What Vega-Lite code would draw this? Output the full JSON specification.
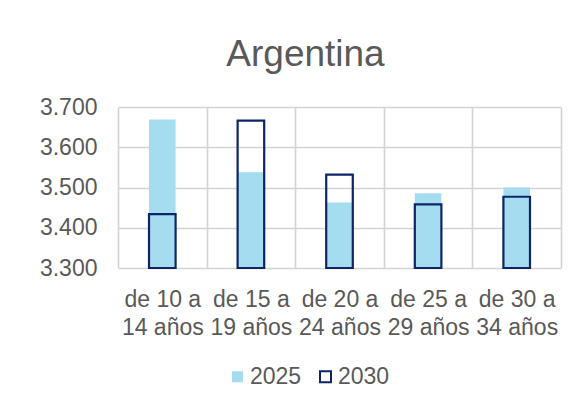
{
  "$schema": "https://vega.github.io/schema/vega-lite/v6.json",
  "width": 443,
  "height": 161,
  "autosize": {"type": "none"},
  "padding": {"left": 118, "top": 107, "right": 11, "bottom": 141},
  "background": "white",
  "title": {
    "text": "Argentina",
    "font": "Liberation Sans",
    "fontSize": 37,
    "fontWeight": "normal",
    "color": "#595959",
    "anchor": "middle",
    "frame": "group",
    "baseline": "alphabetic",
    "offset": -7,
    "dx": -34
  },
  "data": {
    "values": [
      {"grupo": "de 10 a 14 años", "anio": "2025", "valor": 3669},
      {"grupo": "de 15 a 19 años", "anio": "2025", "valor": 3538},
      {"grupo": "de 20 a 24 años", "anio": "2025", "valor": 3463},
      {"grupo": "de 25 a 29 años", "anio": "2025", "valor": 3486},
      {"grupo": "de 30 a 34 años", "anio": "2025", "valor": 3500},
      {"grupo": "de 10 a 14 años", "anio": "2030", "valor": 3434},
      {"grupo": "de 15 a 19 años", "anio": "2030", "valor": 3666},
      {"grupo": "de 20 a 24 años", "anio": "2030", "valor": 3532},
      {"grupo": "de 25 a 29 años", "anio": "2030", "valor": 3458},
      {"grupo": "de 30 a 34 años", "anio": "2030", "valor": 3477}
    ]
  },
  "mark": {"type": "bar", "width": {"band": 0.3}, "strokeWidth": 2.2},
  "encoding": {
    "x": {
      "field": "grupo",
      "type": "nominal",
      "sort": null,
      "scale": {"paddingInner": 0, "paddingOuter": 0},
      "axis": {
        "title": null,
        "ticks": false,
        "domain": false,
        "grid": true,
        "tickBand": "extent",
        "gridColor": "#D4D4D4",
        "gridWidth": 1.6,
        "labelAngle": 0,
        "labelFont": "Liberation Sans",
        "labelFontSize": 23,
        "labelColor": "#595959",
        "labelPadding": 20,
        "labelLineHeight": 28,
        "labelLimit": 0,
        "labelExpr": "[substring(datum.label, 0, 7), substring(datum.label, 8)]"
      }
    },
    "y": {
      "field": "valor",
      "type": "quantitative",
      "scale": {"domain": [3300, 3700], "zero": false, "nice": false},
      "axis": {
        "title": null,
        "ticks": false,
        "domain": false,
        "values": [3300, 3400, 3500, 3600, 3700],
        "gridColor": "#D4D4D4",
        "gridWidth": 1.6,
        "labelFont": "Liberation Sans",
        "labelFontSize": 23,
        "labelColor": "#595959",
        "labelPadding": 21,
        "labelExpr": "replace(format(datum.value, ','), ',', '.')"
      }
    },
    "y2": {"datum": 3300},
    "fill": {
      "field": "anio",
      "type": "nominal",
      "scale": {"domain": ["2025", "2030"], "range": ["#A6DCF0", "transparent"]},
      "legend": {
        "title": null,
        "orient": "none",
        "direction": "horizontal",
        "legendX": 108,
        "legendY": 258,
        "padding": 0,
        "symbolType": "square",
        "symbolSize": 121,
        "symbolStrokeWidth": 2,
        "labelFont": "Liberation Sans",
        "labelFontSize": 23,
        "labelColor": "#595959",
        "labelOffset": 1,
        "columnPadding": 12
      }
    },
    "stroke": {
      "field": "anio",
      "type": "nominal",
      "scale": {"domain": ["2025", "2030"], "range": ["transparent", "#0D2567"]},
      "legend": {
        "title": null,
        "orient": "none",
        "direction": "horizontal",
        "legendX": 108,
        "legendY": 258,
        "padding": 0,
        "symbolType": "square",
        "symbolSize": 121,
        "symbolStrokeWidth": 2,
        "labelFont": "Liberation Sans",
        "labelFontSize": 23,
        "labelColor": "#595959",
        "labelOffset": 1,
        "columnPadding": 12
      }
    }
  },
  "config": {
    "view": {"stroke": null}
  }
}
